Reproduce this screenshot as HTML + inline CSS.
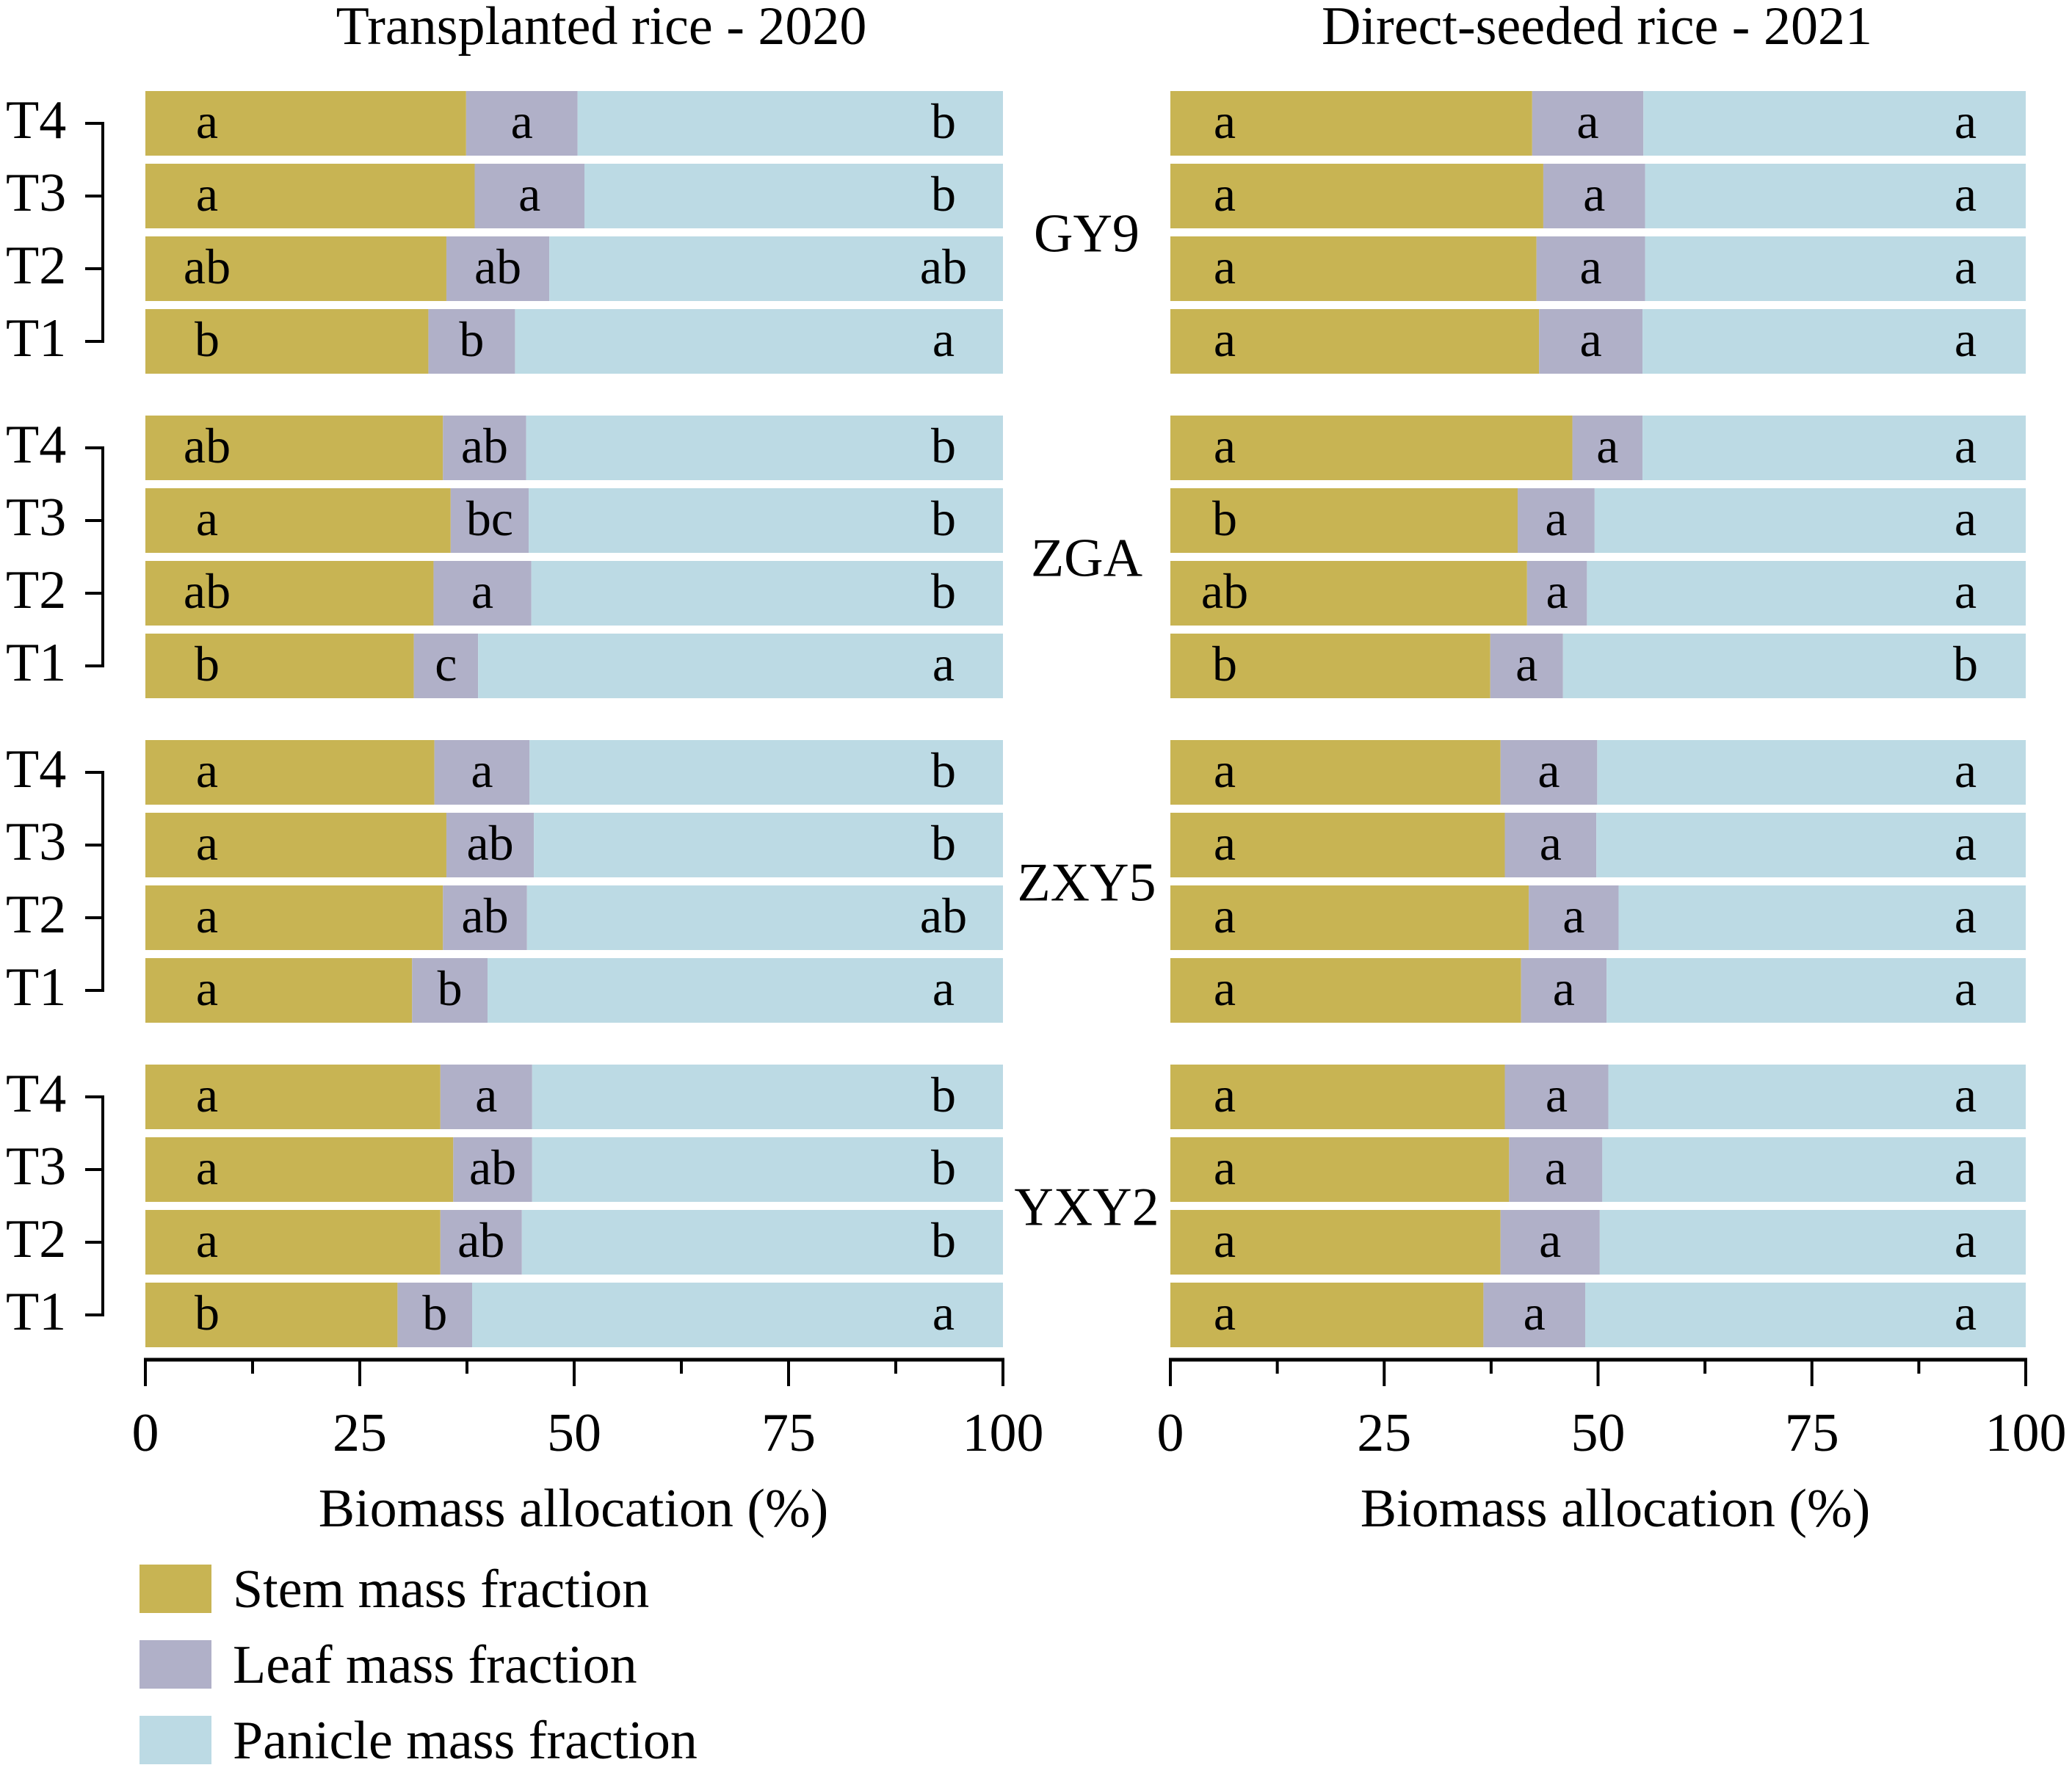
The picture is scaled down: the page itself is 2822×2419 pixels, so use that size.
<!DOCTYPE html>
<html><head><meta charset="utf-8"><style>
html,body{margin:0;padding:0;background:#fff;}
svg, svg text{font-family:"Liberation Serif","Times New Roman",serif;}
</style></head><body>
<svg id="chart" xmlns="http://www.w3.org/2000/svg" width="2822" height="2414" viewBox="0 0 2822 2414">
<g id="content"></g>
</svg>
<script>
// Data: order within each cultivar is T4, T3, T2, T1
const cultivars = ["GY9","ZGA","ZXY5","YXY2"];
const treatments = ["T4","T3","T2","T1"];
const panelTitles = ["Transplanted rice - 2020","Direct-seeded rice - 2021"];
const tickValues = [0,25,50,75,100];
// Panel 1 (2020)
const stem2020 = [37.4,38.4,35.1,33.0, 34.7,35.6,33.6,31.3, 33.7,35.1,34.7,31.1, 34.4,35.9,34.4,29.4];
const leaf2020 = [13.0,12.8,12.0,10.1, 9.7,9.1,11.4,7.5, 11.1,10.2,9.8,8.8, 10.7,9.2,9.5,8.7];
const stemLet2020 = ["a","a","ab","b","ab","a","ab","b","a","a","a","a","a","a","a","b"];
const leafLet2020 = ["a","a","ab","b","ab","bc","a","c","a","ab","ab","b","a","ab","ab","b"];
const panLet2020 = ["b","b","ab","a","b","b","b","a","b","b","ab","a","b","b","b","a"];
// Panel 2 (2021)
const stem2021 = [42.3,43.6,42.8,43.1, 47.0,40.6,41.7,37.4, 38.6,39.1,41.9,41.0, 39.1,39.6,38.6,36.6];
const leaf2021 = [13.0,11.9,12.7,12.1, 8.2,9.0,7.0,8.5, 11.3,10.7,10.5,10.0, 12.1,10.9,11.6,11.9];
const stemLet2021 = ["a","a","a","a","a","b","ab","b","a","a","a","a","a","a","a","a"];
const leafLet2021 = ["a","a","a","a","a","a","a","a","a","a","a","a","a","a","a","a"];
const panLet2021 = ["a","a","a","a","a","a","a","b","a","a","a","a","a","a","a","a"];

const NS="http://www.w3.org/2000/svg";
const root=document.getElementById('content');
const C={stem:"#C8B453",leaf:"#B0B0C8",pan:"#BCDAE4"};
const FONT='"Liberation Serif","Times New Roman",serif';
const panels=[
 {x0:198,x1:1366,stem:stem2020,leaf:leaf2020,sl:stemLet2020,ll:leafLet2020,pl:panLet2020,title:panelTitles[0],tx:819,ax:781,stemLx:282,panLx:1285,key:"2020"},
 {x0:1594,x1:2759,stem:stem2021,leaf:leaf2021,sl:stemLet2021,ll:leafLet2021,pl:panLet2021,title:panelTitles[1],tx:2175,ax:2200,stemLx:1668,panLx:2677,key:"2021"}
];
function el(tag,attrs,parent){const e=document.createElementNS(NS,tag);for(const k in attrs)e.setAttribute(k,attrs[k]);(parent||root).appendChild(e);return e;}
function txt(x,y,s,size,anchor,parent){const t=el('text',{x:x,y:y,'font-size':size,'font-family':FONT,'text-anchor':anchor||'middle',fill:'#000'},parent);t.textContent=s;return t;}
const barTop0=124,barPitch=99,barH=88,groupPitch=442;
function rowY(g,r){return barTop0+g*groupPitch+r*barPitch;}

panels.forEach(p=>{
  const sx=v=>p.x0+(p.x1-p.x0)*v/100;
  const pg=el('g',{});
  
  
  const tt=txt(p.tx,60,p.title,74,'middle',pg);
  
  
  cultivars.forEach((cv,g)=>{
    treatments.forEach((tr,r)=>{
      const i=g*4+r;const y=rowY(g,r);
      const s=p.stem[i],l=p.leaf[i];
      const bg=el('g',{},pg);
      
      
      const r1=el('rect',{x:sx(0),y:y,width:sx(s)-sx(0),height:barH,fill:C.stem},bg);
      
      
      const r2=el('rect',{x:sx(s),y:y,width:sx(s+l)-sx(s),height:barH,fill:C.leaf},bg);
      
      
      const r3=el('rect',{x:sx(s+l),y:y,width:sx(100)-sx(s+l),height:barH,fill:C.pan},bg);
      
      
      const by=y+barH/2+20;
      const t1=txt(p.stemLx,by,p.sl[i],68,'middle',bg);
      
      
      const t2=txt((sx(s)+sx(s+l))/2,by,p.ll[i],68,'middle',bg);
      
      
      const t3=txt(p.panLx,by,p.pl[i],68,'middle',bg);
      
      
    });
  });
  const ag=el('g',{},pg);
  
  
  el('line',{x1:sx(0)-2,x2:sx(100)+2,y1:1852,y2:1852,stroke:'#000','stroke-width':5},ag);
  for(let v=0;v<=100;v+=12.5){
    const major=(v%25===0);
    el('line',{x1:sx(v),x2:sx(v),y1:1852,y2:major?1888:1871,stroke:'#000','stroke-width':4},ag);
  }
  tickValues.forEach(v=>{const t=txt(sx(v),1976,String(v),74,'middle',ag);
    
    });
  const at=txt(p.ax,2079,'Biomass allocation (%)',74,'middle',pg);
  
  
});

cultivars.forEach((cv,g)=>{
  const gg=el('g',{});
  
  
  const yc0=rowY(g,0)+barH/2, yc3=rowY(g,3)+barH/2;
  el('line',{x1:140,x2:140,y1:yc0-2,y2:yc3+2,stroke:'#000','stroke-width':4},gg);
  treatments.forEach((tr,r)=>{
    const yc=rowY(g,r)+barH/2;
    el('line',{x1:116,x2:142,y1:yc,y2:yc,stroke:'#000','stroke-width':4},gg);
    const t=txt(8,yc+20,tr,74,'start',gg);
    
    
  });
  const gl=txt(1480,rowY(g,0)+(3*barPitch+barH)/2+26,cv,74,'middle');
  
  
});

const legendLabels=["Stem mass fraction","Leaf mass fraction","Panicle mass fraction"];
const legendColors=[C.stem,C.leaf,C.pan];
const legendY=[2131,2234,2337];
legendLabels.forEach((lab,i)=>{
  const lg=el('g',{});
  
  
  el('rect',{x:190,y:legendY[i],width:98,height:66,fill:legendColors[i]},lg);
  txt(317,legendY[i]+58,lab,74,'start',lg);
});
</script>
</body></html>
